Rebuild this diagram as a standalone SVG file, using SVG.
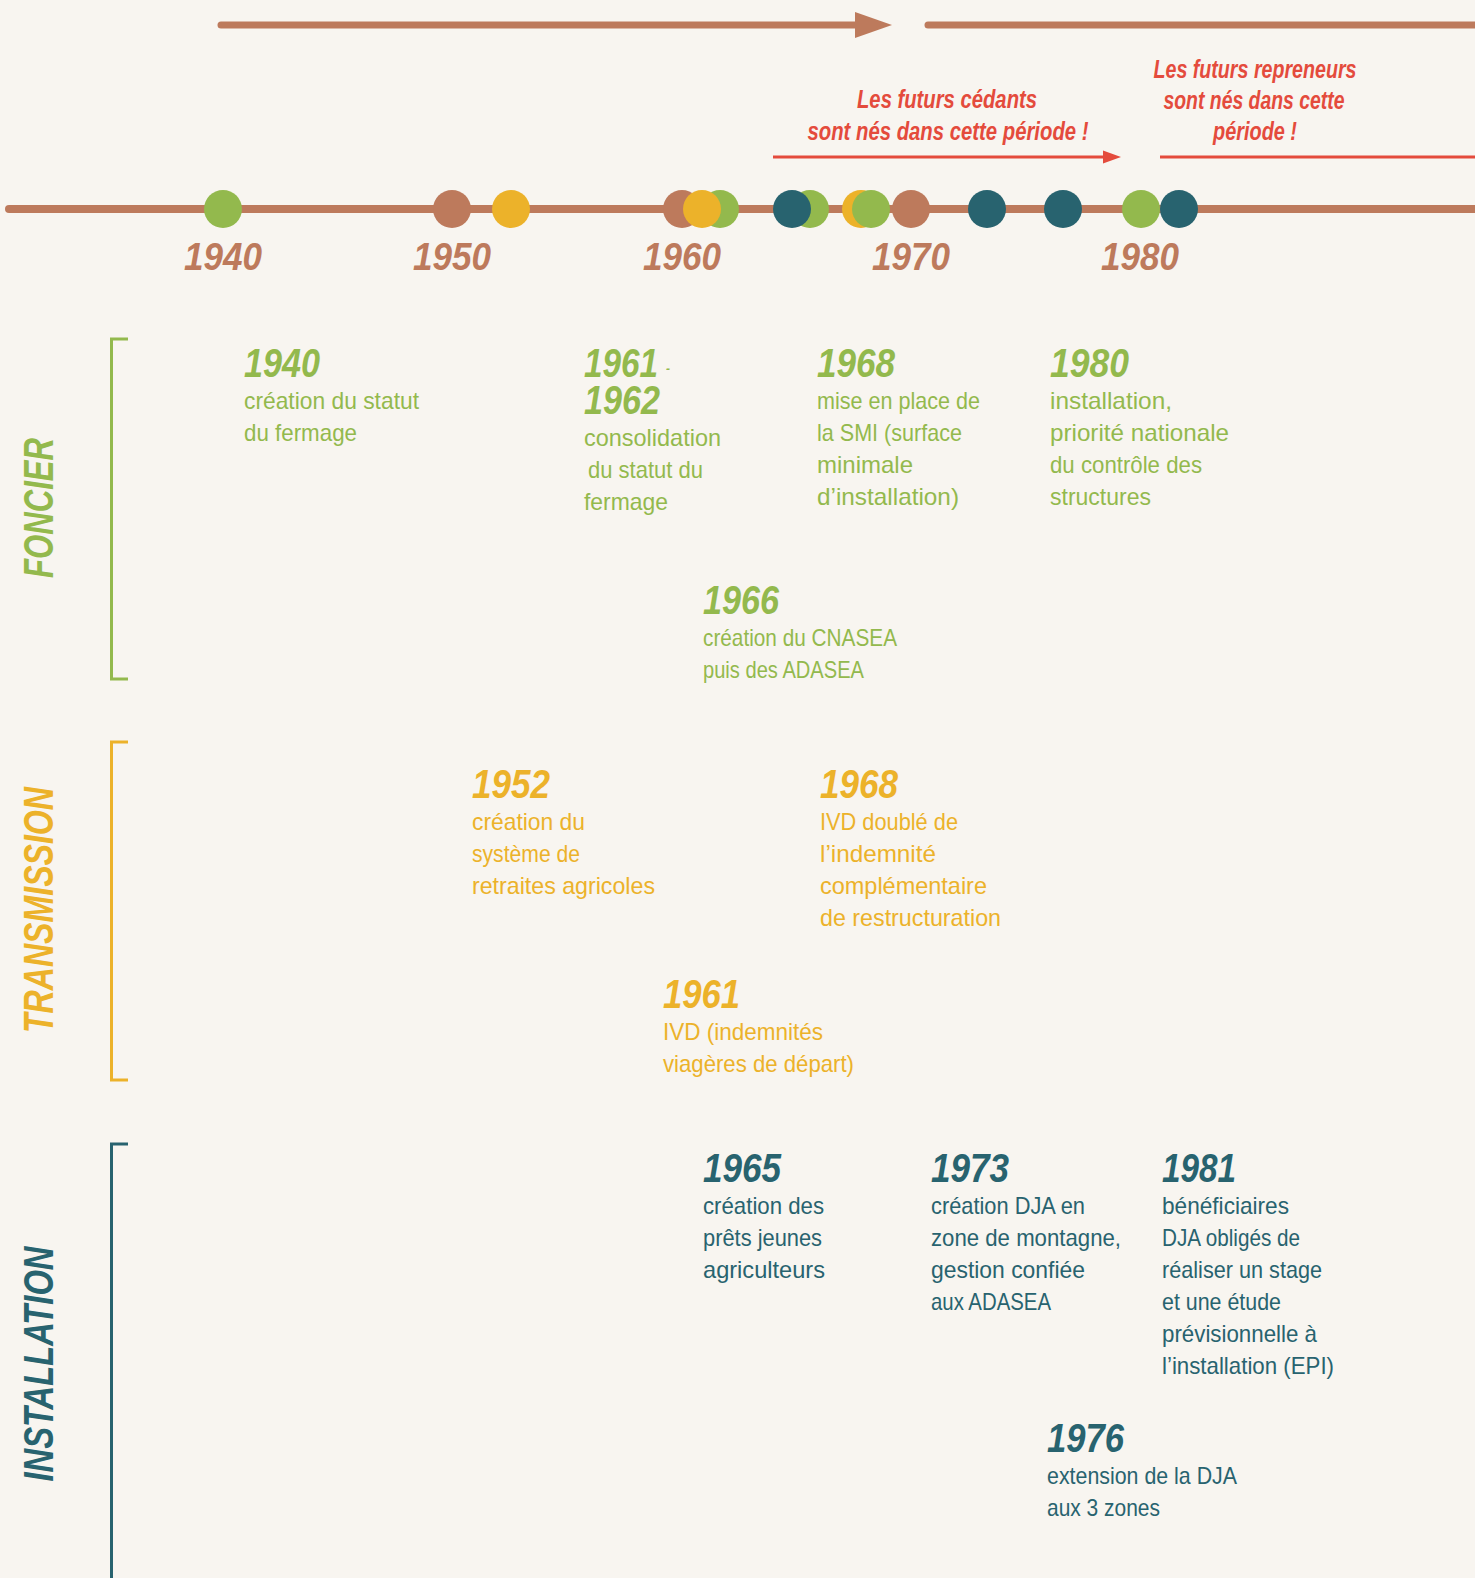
<svg xmlns="http://www.w3.org/2000/svg" width="1475" height="1578" viewBox="0 0 1475 1578">
<style>
text{font-family:"Liberation Sans","DejaVu Sans",sans-serif}
.yr{font-size:40px;font-weight:bold;font-style:italic}
.tx{font-size:24px}
.ax{font-size:38px;font-weight:bold;font-style:italic;fill:#bd7a5c;text-anchor:middle}
.sec{font-size:43px;font-weight:bold;font-style:italic;text-anchor:middle}
.red{font-size:25px;font-weight:bold;font-style:italic;fill:#e44b3c;text-anchor:middle}
.g{fill:#93b94d}.y{fill:#ecb22a}.t{fill:#28636f}.b{fill:#bd7a5c}
.brk{fill:none;stroke-width:3}
</style>
<rect width="1475" height="1578" fill="#f8f5f0"/>

<g id="connectors">
  <line x1="221" y1="25" x2="858" y2="25" stroke="#bd7a5c" stroke-width="7" stroke-linecap="round"/>
  <polygon points="855,12 892,25 855,38" fill="#bd7a5c"/>
  <line x1="928" y1="25" x2="1480" y2="25" stroke="#bd7a5c" stroke-width="7" stroke-linecap="round"/>
  <line x1="773" y1="157" x2="1106" y2="157" stroke="#e44b3c" stroke-width="3"/>
  <polygon points="1103,150.5 1121,157 1103,163.5" fill="#e44b3c"/>
  <line x1="1160" y1="157" x2="1480" y2="157" stroke="#e44b3c" stroke-width="3"/>
  <line x1="9" y1="209" x2="1480" y2="209" stroke="#bd7a5c" stroke-width="8" stroke-linecap="round"/>
</g>

<g id="timeline-dots">
  <circle cx="223" cy="209" r="19" class="g"/>
  <circle cx="452" cy="209" r="19" class="b"/>
  <circle cx="511" cy="209" r="19" class="y"/>
  <circle cx="682" cy="209" r="19" class="b"/>
  <circle cx="720" cy="209" r="19" class="g"/>
  <circle cx="702" cy="209" r="19" class="y"/>
  <circle cx="810" cy="209" r="19" class="g"/>
  <circle cx="792" cy="209" r="19" class="t"/>
  <circle cx="861" cy="209" r="19" class="y"/>
  <circle cx="871" cy="209" r="19" class="g"/>
  <circle cx="911" cy="209" r="19" class="b"/>
  <circle cx="987" cy="209" r="19" class="t"/>
  <circle cx="1063" cy="209" r="19" class="t"/>
  <circle cx="1141" cy="209" r="19" class="g"/>
  <circle cx="1179" cy="209" r="19" class="t"/>
</g>

<g id="axis-labels">
  <text class="ax" x="223" y="270" textLength="78" lengthAdjust="spacingAndGlyphs">1940</text>
  <text class="ax" x="452" y="270" textLength="78" lengthAdjust="spacingAndGlyphs">1950</text>
  <text class="ax" x="682" y="270" textLength="78" lengthAdjust="spacingAndGlyphs">1960</text>
  <text class="ax" x="911" y="270" textLength="78" lengthAdjust="spacingAndGlyphs">1970</text>
  <text class="ax" x="1140" y="270" textLength="78" lengthAdjust="spacingAndGlyphs">1980</text>
</g>

<g id="note-cedants">
  <text class="red" x="947" y="108" textLength="180" lengthAdjust="spacingAndGlyphs">Les futurs cédants</text>
  <text class="red" x="948" y="140" textLength="281" lengthAdjust="spacingAndGlyphs">sont nés dans cette période !</text>
</g>
<g id="note-repreneurs">
  <text class="red" x="1255" y="78" textLength="203" lengthAdjust="spacingAndGlyphs">Les futurs repreneurs</text>
  <text class="red" x="1254" y="109" textLength="181" lengthAdjust="spacingAndGlyphs">sont nés dans cette</text>
  <text class="red" x="1255" y="140" textLength="84" lengthAdjust="spacingAndGlyphs">période !</text>
</g>

<!-- FONCIER -->
<g id="sec-foncier">
  <text class="sec g" transform="translate(53,508) rotate(-90)" textLength="140" lengthAdjust="spacingAndGlyphs">FONCIER</text>
  <polyline class="brk" stroke="#93b94d" points="128,339 111.5,339 111.5,679 128,679"/>
</g>
<g id="f-1940" class="g">
  <text class="yr" x="244" y="377" textLength="76" lengthAdjust="spacingAndGlyphs">1940</text>
  <text class="tx" x="244" y="409" textLength="175" lengthAdjust="spacingAndGlyphs">création du statut</text>
  <text class="tx" x="244" y="441" textLength="113" lengthAdjust="spacingAndGlyphs">du fermage</text>
</g>
<g id="f-1961" class="g">
  <text class="yr"><tspan x="584" y="377" textLength="74" lengthAdjust="spacingAndGlyphs">1961</tspan><tspan x="666" y="373" font-size="12">-</tspan><tspan x="584" y="414" textLength="76" lengthAdjust="spacingAndGlyphs">1962</tspan></text>
  <text class="tx" x="584" y="446" textLength="137" lengthAdjust="spacingAndGlyphs">consolidation</text>
  <text class="tx" x="588" y="478" textLength="115" lengthAdjust="spacingAndGlyphs">du statut du</text>
  <text class="tx" x="584" y="510" textLength="84" lengthAdjust="spacingAndGlyphs">fermage</text>
</g>
<g id="f-1968" class="g">
  <text class="yr" x="817" y="377" textLength="78" lengthAdjust="spacingAndGlyphs">1968</text>
  <text class="tx" x="817" y="409" textLength="163" lengthAdjust="spacingAndGlyphs">mise en place de</text>
  <text class="tx" x="817" y="441" textLength="145" lengthAdjust="spacingAndGlyphs">la SMI (surface</text>
  <text class="tx" x="817" y="473" textLength="96" lengthAdjust="spacingAndGlyphs">minimale</text>
  <text class="tx" x="817" y="505" textLength="142" lengthAdjust="spacingAndGlyphs">d’installation)</text>
</g>
<g id="f-1980" class="g">
  <text class="yr" x="1050" y="377" textLength="79" lengthAdjust="spacingAndGlyphs">1980</text>
  <text class="tx" x="1050" y="409" textLength="122" lengthAdjust="spacingAndGlyphs">installation,</text>
  <text class="tx" x="1050" y="441" textLength="179" lengthAdjust="spacingAndGlyphs">priorité nationale</text>
  <text class="tx" x="1050" y="473" textLength="152" lengthAdjust="spacingAndGlyphs">du contrôle des</text>
  <text class="tx" x="1050" y="505" textLength="101" lengthAdjust="spacingAndGlyphs">structures</text>
</g>
<g id="f-1966" class="g">
  <text class="yr" x="703" y="614" textLength="76" lengthAdjust="spacingAndGlyphs">1966</text>
  <text class="tx" x="703" y="646" textLength="194" lengthAdjust="spacingAndGlyphs">création du CNASEA</text>
  <text class="tx" x="703" y="678" textLength="161" lengthAdjust="spacingAndGlyphs">puis des ADASEA</text>
</g>

<!-- TRANSMISSION -->
<g id="sec-transmission">
  <text class="sec y" transform="translate(53,910) rotate(-90)" textLength="246" lengthAdjust="spacingAndGlyphs">TRANSMISSION</text>
  <polyline class="brk" stroke="#ecb22a" points="128,742 111.5,742 111.5,1080 128,1080"/>
</g>
<g id="t-1952" class="y">
  <text class="yr" x="472" y="798" textLength="78" lengthAdjust="spacingAndGlyphs">1952</text>
  <text class="tx" x="472" y="830" textLength="113" lengthAdjust="spacingAndGlyphs">création du</text>
  <text class="tx" x="472" y="862" textLength="108" lengthAdjust="spacingAndGlyphs">système de</text>
  <text class="tx" x="472" y="894" textLength="183" lengthAdjust="spacingAndGlyphs">retraites agricoles</text>
</g>
<g id="t-1968" class="y">
  <text class="yr" x="820" y="798" textLength="78" lengthAdjust="spacingAndGlyphs">1968</text>
  <text class="tx" x="820" y="830" textLength="138" lengthAdjust="spacingAndGlyphs">IVD doublé de</text>
  <text class="tx" x="820" y="862" textLength="116" lengthAdjust="spacingAndGlyphs">l’indemnité</text>
  <text class="tx" x="820" y="894" textLength="167" lengthAdjust="spacingAndGlyphs">complémentaire</text>
  <text class="tx" x="820" y="926" textLength="181" lengthAdjust="spacingAndGlyphs">de restructuration</text>
</g>
<g id="t-1961" class="y">
  <text class="yr" x="663" y="1008" textLength="77" lengthAdjust="spacingAndGlyphs">1961</text>
  <text class="tx" x="663" y="1040" textLength="160" lengthAdjust="spacingAndGlyphs">IVD (indemnités</text>
  <text class="tx" x="663" y="1072" textLength="191" lengthAdjust="spacingAndGlyphs">viagères de départ)</text>
</g>

<!-- INSTALLATION -->
<g id="sec-installation">
  <text class="sec t" transform="translate(53,1364) rotate(-90)" textLength="235" lengthAdjust="spacingAndGlyphs">INSTALLATION</text>
  <polyline class="brk" stroke="#28636f" points="128,1144 111.5,1144 111.5,1580"/>
</g>
<g id="i-1965" class="t">
  <text class="yr" x="703" y="1182" textLength="78" lengthAdjust="spacingAndGlyphs">1965</text>
  <text class="tx" x="703" y="1214" textLength="121" lengthAdjust="spacingAndGlyphs">création des</text>
  <text class="tx" x="703" y="1246" textLength="119" lengthAdjust="spacingAndGlyphs">prêts jeunes</text>
  <text class="tx" x="703" y="1278" textLength="122" lengthAdjust="spacingAndGlyphs">agriculteurs</text>
</g>
<g id="i-1973" class="t">
  <text class="yr" x="931" y="1182" textLength="78" lengthAdjust="spacingAndGlyphs">1973</text>
  <text class="tx" x="931" y="1214" textLength="154" lengthAdjust="spacingAndGlyphs">création DJA en</text>
  <text class="tx" x="931" y="1246" textLength="190" lengthAdjust="spacingAndGlyphs">zone de montagne,</text>
  <text class="tx" x="931" y="1278" textLength="154" lengthAdjust="spacingAndGlyphs">gestion confiée</text>
  <text class="tx" x="931" y="1310" textLength="120" lengthAdjust="spacingAndGlyphs">aux ADASEA</text>
</g>
<g id="i-1981" class="t">
  <text class="yr" x="1162" y="1182" textLength="74" lengthAdjust="spacingAndGlyphs">1981</text>
  <text class="tx" x="1162" y="1214" textLength="127" lengthAdjust="spacingAndGlyphs">bénéficiaires</text>
  <text class="tx" x="1162" y="1246" textLength="138" lengthAdjust="spacingAndGlyphs">DJA obligés de</text>
  <text class="tx" x="1162" y="1278" textLength="160" lengthAdjust="spacingAndGlyphs">réaliser un stage</text>
  <text class="tx" x="1162" y="1310" textLength="119" lengthAdjust="spacingAndGlyphs">et une étude</text>
  <text class="tx" x="1162" y="1342" textLength="155" lengthAdjust="spacingAndGlyphs">prévisionnelle à</text>
  <text class="tx" x="1162" y="1374" textLength="172" lengthAdjust="spacingAndGlyphs">l’installation (EPI)</text>
</g>
<g id="i-1976" class="t">
  <text class="yr" x="1047" y="1452" textLength="77" lengthAdjust="spacingAndGlyphs">1976</text>
  <text class="tx" x="1047" y="1484" textLength="190" lengthAdjust="spacingAndGlyphs">extension de la DJA</text>
  <text class="tx" x="1047" y="1516" textLength="113" lengthAdjust="spacingAndGlyphs">aux 3 zones</text>
</g>
</svg>
